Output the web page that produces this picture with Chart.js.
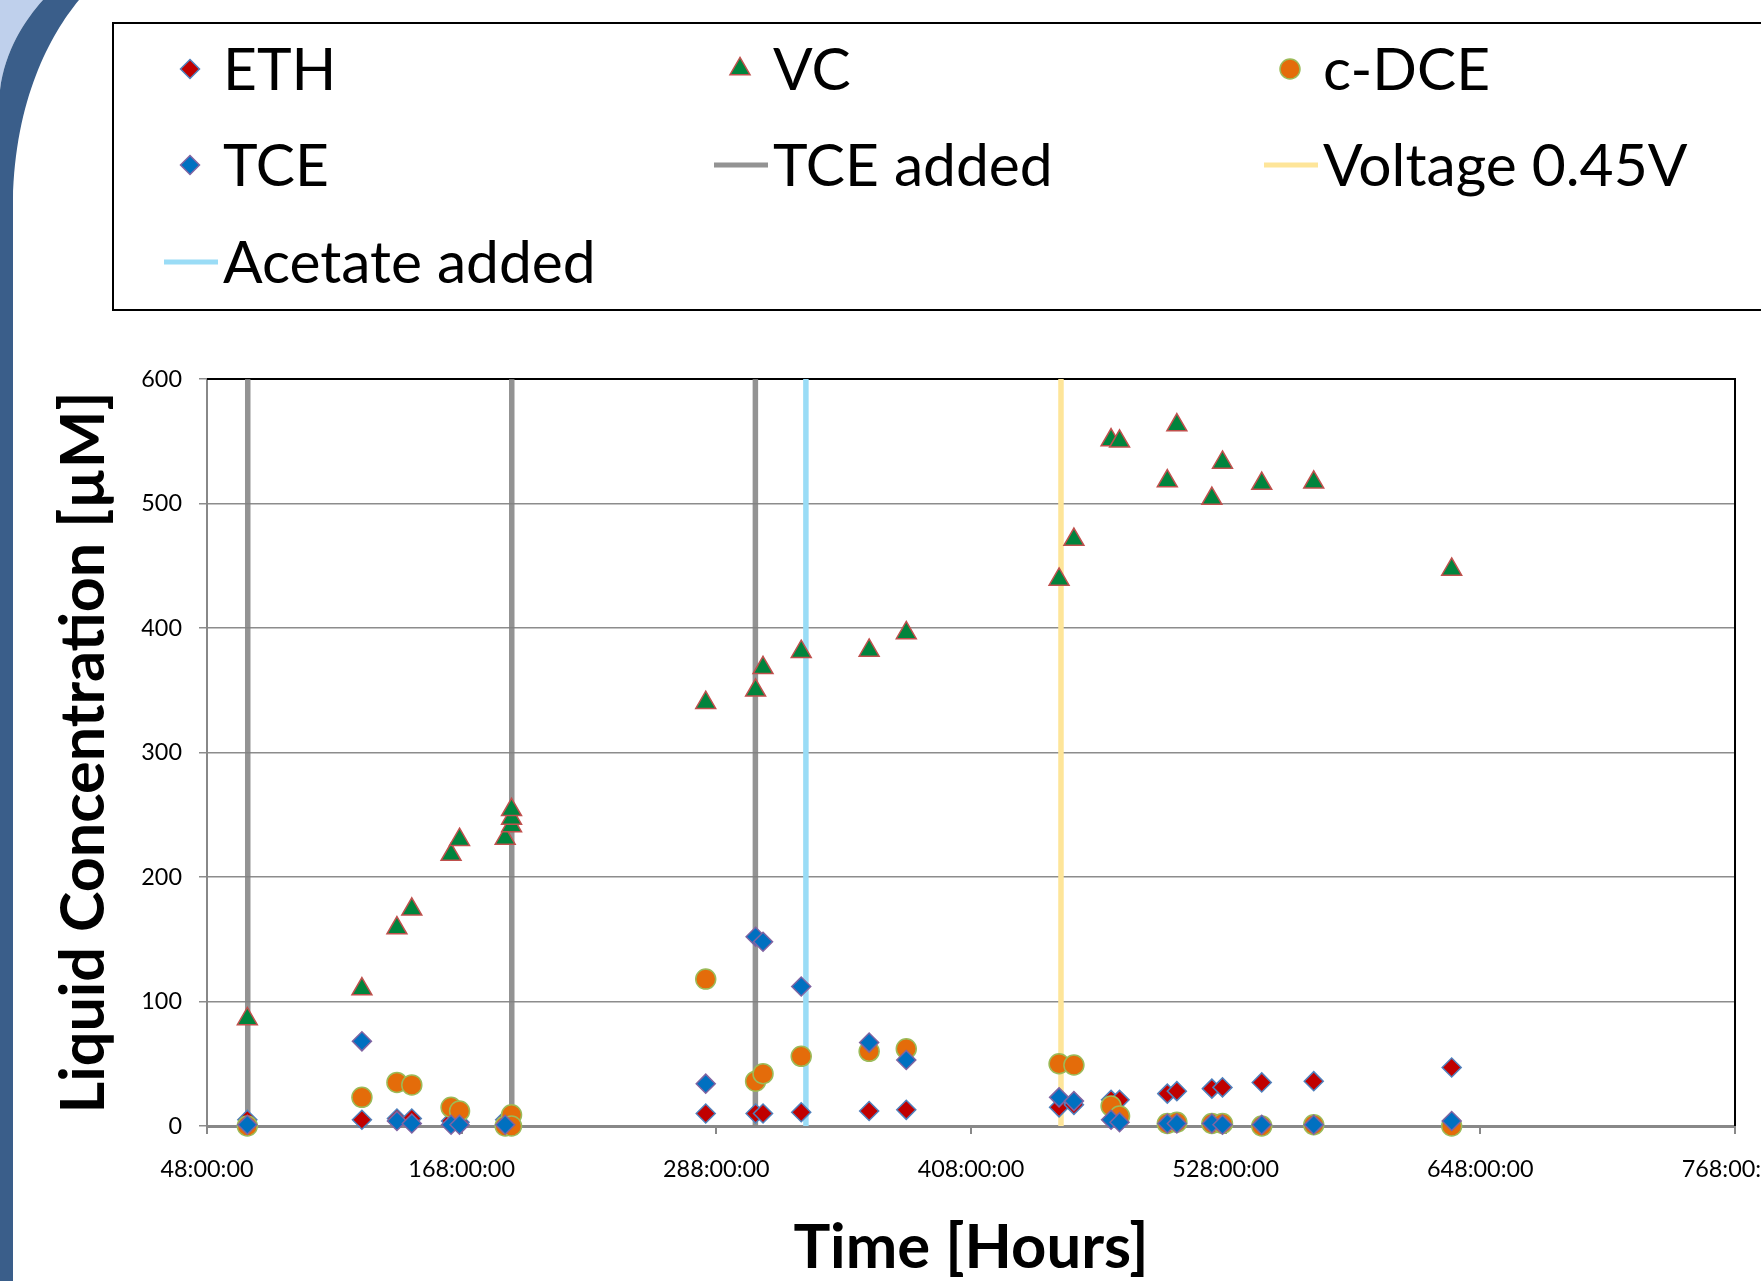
<!DOCTYPE html>
<html>
<head>
<meta charset="utf-8">
<title>Liquid Concentration</title>
<script src="https://cdn.jsdelivr.net/npm/chart.js@4.4.0/dist/chart.umd.min.js"></script>
<style>
  html, body { margin: 0; padding: 0; background: #fff; }
  #wrap { width: 1761px; height: 1281px; }
</style>
</head>
<body>
<div id="wrap"><canvas id="chart" width="1761" height="1281"></canvas></div>
<script>
// Sampling times (hours)
const hours = [67, 121, 137.5, 144.5, 163, 167, 188.5, 191.5, 191.5, 191.5,
               283, 306.5, 310, 328, 360, 377.5, 449.5, 456.5, 474, 478,
               500.5, 505, 521.5, 526.5, 545, 569.5, 634.5];

// Liquid concentrations (uM)
const eth  = [5, 5, 6, 6, 4, 3, 5, null, null, null,
              10, 10, 10, 11, 12, 13, 15, 17, 21, 21,
              26, 28, 30, 31, 35, 36, 47];
const vc   = [86, 110, 159, 174, 218, 230, 231, 241, 247, 254,
              340, 350, 368, 381, 382, 396, 439, 471, 551, 550,
              518, 563, 504, 533, 516, 517, 447];
const cdce = [0, 23, 35, 33, 15, 12, 0, 9, 0, null,
              118, 36, 42, 56, 60, 62, 50, 49, 16, 8,
              2, 3, 2, 2, 0, 1, 0];
const tce  = [1, 68, 4, 2, 1, 1, 1, null, null, null,
              34, 152, 148, 112, 67, 53, 23, 20, 5, 3,
              2, 2, 2, 1, 1, 1, 4];

// Events (hours)
const tceAdded = [67.2, 191.6, 306.4];
const voltageOn = [450.4];
const acetateAdded = [330.2];

const xTicks = [48, 168, 288, 408, 528, 648, 768];
const yMax = 600;

const FAMILY = 'Lato, "Liberation Sans", sans-serif';

// ajusta el tamaño de letra a un ancho dado
function fitSize(text, weight, width) {
    const c = document.createElement('canvas').getContext('2d');
    c.font = weight + ' 100px ' + FAMILY;
    return Math.round(100 * width / c.measureText(text).width * 10) / 10;
}
const tickSize = fitSize('48:00:00', 'normal', 93);
const titleSizeY = fitSize('Liquid Concentration [\u00b5M]', 'bold', 722);
const titleSizeX = fitSize('Time [Hours]', 'bold', 355);
const legendSize = fitSize('Acetate added TCE added', 'normal', 386 + 282);

function pts(values) {
    return hours.map((h, i) => ({ x: h, y: values[i] }));
}
function vlines(list) {
    const out = [];
    list.forEach(h => {
        out.push({ x: h, y: 0 }, { x: h, y: yMax }, { x: h, y: null });
    });
    return out;
}

// fondo decorativo de la diapositiva
const slideBg = {
    id: 'slideBg',
    beforeDraw(chart) {
        const ctx = chart.ctx;
        ctx.save();
        ctx.fillStyle = '#fff';
        ctx.fillRect(0, 0, chart.width, chart.height);
        ctx.fillStyle = '#bfd0ec';
        ctx.beginPath();
        ctx.moveTo(0, 0);
        ctx.lineTo(43, 0);
        ctx.bezierCurveTo(25, 20, 5, 50, 0, 90);
        ctx.closePath();
        ctx.fill();
        ctx.fillStyle = '#3a5e8a';
        ctx.beginPath();
        ctx.moveTo(43, 0);
        ctx.lineTo(79, 0);
        ctx.bezierCurveTo(50, 35, 15, 100, 13, 200);
        ctx.lineTo(13, chart.height);
        ctx.lineTo(0, chart.height);
        ctx.lineTo(0, 90);
        ctx.bezierCurveTo(5, 50, 25, 20, 43, 0);
        ctx.closePath();
        ctx.fill();
        ctx.restore();
    },
    beforeDatasetsDraw(chart) {
        const a = chart.chartArea, ctx = chart.ctx;
        ctx.save();
        ctx.strokeStyle = '#000';
        ctx.lineWidth = 2;
        ctx.beginPath();
        ctx.moveTo(a.left, a.top);
        ctx.lineTo(a.right, a.top);
        ctx.lineTo(a.right, a.bottom);
        ctx.stroke();
        ctx.restore();
    }
};

// leyenda en tres columnas dentro de un recuadro
const legendCols = [223, 773, 1323];
const legendRows = [90, 186, 283];
const legendBox = {
    id: 'legendBox',
    afterDraw(chart) {
        const ctx = chart.ctx;
        ctx.save();
        ctx.strokeStyle = '#000';
        ctx.lineWidth = 2;
        ctx.strokeRect(113, 23, 1700, 287);
        ctx.font = legendSize + 'px ' + FAMILY;
        ctx.textBaseline = 'alphabetic';
        ctx.textAlign = 'left';
        chart.data.datasets.forEach((ds, i) => {
            const tx = legendCols[i % 3];
            const ty = legendRows[Math.floor(i / 3)];
            const my = ty - 21;
            if (ds.showLine) {
                ctx.strokeStyle = ds.borderColor;
                ctx.lineWidth = 5;
                ctx.beginPath();
                ctx.moveTo(tx - 59, my);
                ctx.lineTo(tx - 5, my);
                ctx.stroke();
            } else {
                const mx = tx - 33;
                const r = ds.pointRadius;
                ctx.fillStyle = ds.backgroundColor;
                ctx.strokeStyle = ds.borderColor;
                ctx.lineWidth = 1.5;
                ctx.beginPath();
                if (ds.pointStyle === 'rectRot') {
                    ctx.moveTo(mx, my - r); ctx.lineTo(mx + r, my);
                    ctx.lineTo(mx, my + r); ctx.lineTo(mx - r, my);
                } else if (ds.pointStyle === 'triangle') {
                    ctx.moveTo(mx, my - r * 0.75 - 3);
                    ctx.lineTo(mx + r * 0.87, my + r * 0.75 - 3);
                    ctx.lineTo(mx - r * 0.87, my + r * 0.75 - 3);
                } else {
                    ctx.arc(mx, my, r, 0, Math.PI * 2);
                }
                ctx.closePath();
                ctx.fill();
                ctx.stroke();
            }
            ctx.fillStyle = '#000';
            ctx.fillText(ds.label, tx, ty);
        });
        ctx.restore();
    }
};

function marker(label, data, style, fill, border, radius, order) {
    return {
        label: label,
        data: pts(data),
        pointStyle: style,
        backgroundColor: fill,
        borderColor: border,
        borderWidth: 1.5,
        pointRadius: radius,
        pointHoverRadius: radius,
        showLine: false,
        clip: false,
        order: order
    };
}
function eventLine(label, list, color) {
    return {
        label: label,
        data: vlines(list),
        showLine: true,
        spanGaps: false,
        borderColor: color,
        backgroundColor: color,
        borderWidth: 5.5,
        pointRadius: 0,
        order: 10
    };
}

new Chart(document.getElementById('chart'), {
    type: 'scatter',
    data: {
        datasets: [
            marker('ETH', eth, 'rectRot', '#c00000', '#4f81bd', 9.5, 4),
            marker('VC', vc, 'triangle', '#00843d', '#c0504d', 11.5, 3),
            marker('c-DCE', cdce, 'circle', '#e46c0a', '#9bbb59', 10, 2),
            marker('TCE', tce, 'rectRot', '#0070c0', '#8064a2', 9.5, 1),
            eventLine('TCE added', tceAdded, 'rgba(128,128,128,0.85)'),
            eventLine('Voltage 0.45V', voltageOn, '#fee599'),
            eventLine('Acetate added', acetateAdded, '#9adcf6')
        ]
    },
    options: {
        responsive: false,
        devicePixelRatio: 1,
        animation: false,
        layout: { padding: { left: 0, right: 26, top: 379, bottom: 0 } },
        plugins: {
            legend: { display: false },
            tooltip: { enabled: false }
        },
        scales: {
            x: {
                type: 'linear',
                min: 48,
                max: 768,
                afterBuildTicks: (s) => { s.ticks = xTicks.map(v => ({ value: v })); },
                afterFit: (s) => { s.height = 155; s.paddingLeft = 0; s.paddingRight = 0; },
                ticks: {
                    callback: (v) => v + ':00:00',
                    color: '#000',
                    font: { family: FAMILY, size: tickSize },
                    padding: 21,
                    maxRotation: 0,
                    autoSkip: false
                },
                grid: {
                    drawOnChartArea: false,
                    drawTicks: true,
                    tickLength: 8,
                    color: '#888',
                    lineWidth: 2
                },
                border: { color: '#888', width: 3 },
                title: {
                    display: true,
                    text: 'Time [Hours]',
                    color: '#000',
                    font: { family: FAMILY, size: titleSizeX, weight: 'bold' },
                    padding: { top: 0, bottom: -4 }
                }
            },
            y: {
                min: 0,
                max: yMax,
                afterFit: (s) => { s.width = 207; },
                ticks: {
                    stepSize: 100,
                    color: '#000',
                    font: { family: FAMILY, size: tickSize },
                    padding: 17
                },
                grid: {
                    color: '#8c8c8c',
                    lineWidth: 1.5,
                    tickLength: 8
                },
                border: { color: '#888', width: 2 },
                title: {
                    display: true,
                    text: 'Liquid Concentration [\u00b5M]',
                    color: '#000',
                    font: { family: FAMILY, size: titleSizeY, weight: 'bold' },
                    padding: { top: 48, bottom: 0 }
                }
            }
        }
    },
    plugins: [slideBg, legendBox]
});
</script>
</body>
</html>
